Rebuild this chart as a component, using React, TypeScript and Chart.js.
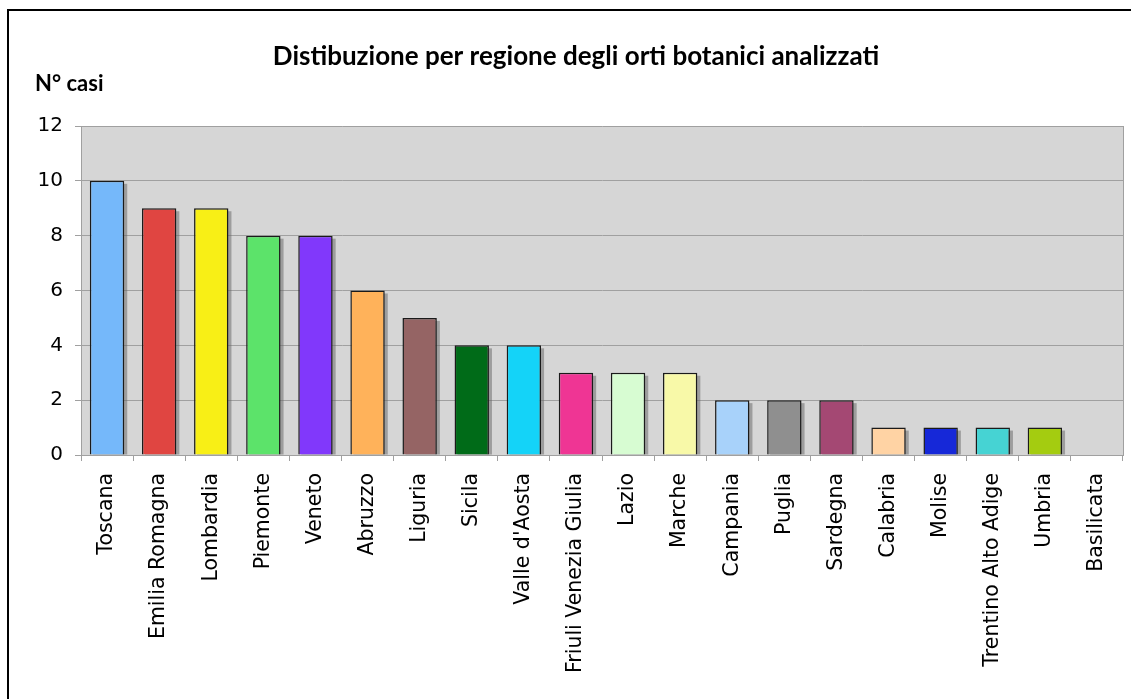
import React, { useEffect, useRef } from "react";
import { Chart, registerables } from "chart.js";

Chart.register(...registerables);

const regions = [
  "Toscana", "Emilia Romagna", "Lombardia", "Piemonte", "Veneto", "Abruzzo",
  "Liguria", "Sicila", "Valle d'Aosta", "Friuli Venezia Giulia", "Lazio",
  "Marche", "Campania", "Puglia", "Sardegna", "Calabria", "Molise",
  "Trentino Alto Adige", "Umbria", "Basilicata",
];

const casi = [10, 9, 9, 8, 8, 6, 5, 4, 4, 3, 3, 3, 2, 2, 2, 1, 1, 1, 1, 0];

const barColors = [
  "#75b8fa", "#e04541", "#f8ef16", "#5ce36a", "#8138fb", "#ffb25a",
  "#956464", "#006b18", "#14d3f8", "#ef3594", "#d7fcd2", "#f8f9a8",
  "#a8d2fa", "#8f8f8f", "#a44873", "#ffd3a4", "#1628d8", "#46d3d3",
  "#a4cc10", "#cccccc",
];

const titleText = "Distibuzione per regione degli orti botanici analizzati";
const yAxisTitle = "N° casi";

const W = 1131;
const H = 699;

const decorations = {
  id: "decorations",
  beforeDraw(chart: any) {
    const { ctx, chartArea: a } = chart;
    ctx.save();
    ctx.fillStyle = "#ffffff";
    ctx.fillRect(0, 0, W, H);
    ctx.fillStyle = "#d6d6d6";
    ctx.fillRect(a.left, a.top, a.right - a.left, a.bottom - a.top);
    ctx.restore();
  },
  beforeDatasetsDraw(chart: any) {
    const { ctx, chartArea: a } = chart;
    const meta = chart.getDatasetMeta(0);
    ctx.save();
    ctx.fillStyle = "rgba(100,100,100,0.5)";
    meta.data.forEach((bar: any, i: number) => {
      if (!casi[i]) return;
      const { x, y, width, base } = bar.getProps(["x", "y", "width", "base"], true);
      const left = x - width / 2 + 3;
      const top = y + 3;
      const bottom = Math.min(base, a.bottom);
      ctx.fillRect(left, top, width, bottom - top);
    });
    ctx.restore();
  },
  afterDraw(chart: any) {
    const { ctx, chartArea: a } = chart;
    ctx.save();
    // plot frame on the right side
    ctx.strokeStyle = "#a0a0a0";
    ctx.lineWidth = 1;
    ctx.beginPath();
    ctx.moveTo(a.right + 0.5, a.top);
    ctx.lineTo(a.right + 0.5, a.bottom);
    ctx.stroke();
    // outer frame
    ctx.strokeStyle = "#000000";
    ctx.lineWidth = 2;
    ctx.beginPath();
    ctx.moveTo(8, H + 5);
    ctx.lineTo(8, 10);
    ctx.lineTo(W + 5, 10);
    ctx.stroke();
    // titles
    ctx.fillStyle = "#000000";
    ctx.textBaseline = "middle";
    ctx.font = "bold 26px Lato, 'Open Sans', sans-serif";
    ctx.textAlign = "center";
    ctx.fillText(titleText, 576, 57);
    ctx.font = "bold 22px Lato, 'Open Sans', sans-serif";
    ctx.textAlign = "left";
    ctx.fillText(yAxisTitle, 35, 84);
    ctx.restore();
  },
};

export default function App() {
  const ref = useRef<HTMLCanvasElement>(null);

  useEffect(() => {
    document.body.style.margin = "0";
    const chart = new Chart(ref.current as HTMLCanvasElement, {
      type: "bar",
      data: {
        labels: regions,
        datasets: [
          {
            data: casi,
            backgroundColor: barColors,
            borderColor: "#1a1a1a",
            borderWidth: 1.5,
            barPercentage: 0.66,
            categoryPercentage: 1,
          },
        ],
      },
      options: {
        responsive: false,
        animation: false,
        layout: { padding: { top: 126, right: 8, left: 0, bottom: 0 } },
        plugins: {
          legend: { display: false },
          tooltip: { enabled: false },
          title: { display: false },
        },
        scales: {
          x: {
            afterFit(scale: any) {
              scale.height = H - 455;
              scale.paddingRight = 0;
              scale.paddingLeft = 0;
            },
            grid: {
              offset: true,
              drawOnChartArea: false,
              drawTicks: true,
              tickLength: 6,
              color: "#a0a0a0",
            },
            border: { color: "#a0a0a0" },
            ticks: {
              minRotation: 90,
              maxRotation: 90,
              autoSkip: false,
              padding: 12,
              color: "#000000",
              font: { family: "'DejaVu Sans', sans-serif", size: 20.5 },
            },
          },
          y: {
            min: 0,
            max: 12,
            afterFit(scale: any) {
              scale.width = 81;
              scale.paddingTop = 0;
              scale.paddingBottom = 0;
            },
            grid: {
              color: "#a0a0a0",
              tickLength: 6,
            },
            border: { color: "#a0a0a0" },
            ticks: {
              stepSize: 2,
              padding: 12,
              color: "#000000",
              font: { family: "'DejaVu Sans', sans-serif", size: 20 },
            },
          },
        },
      },
      plugins: [decorations],
    });
    return () => chart.destroy();
  }, []);

  return (
    <div style={{ position: "absolute", left: 0, top: 0, width: W, height: H }}>
      <canvas ref={ref} width={W} height={H} />
    </div>
  );
}
